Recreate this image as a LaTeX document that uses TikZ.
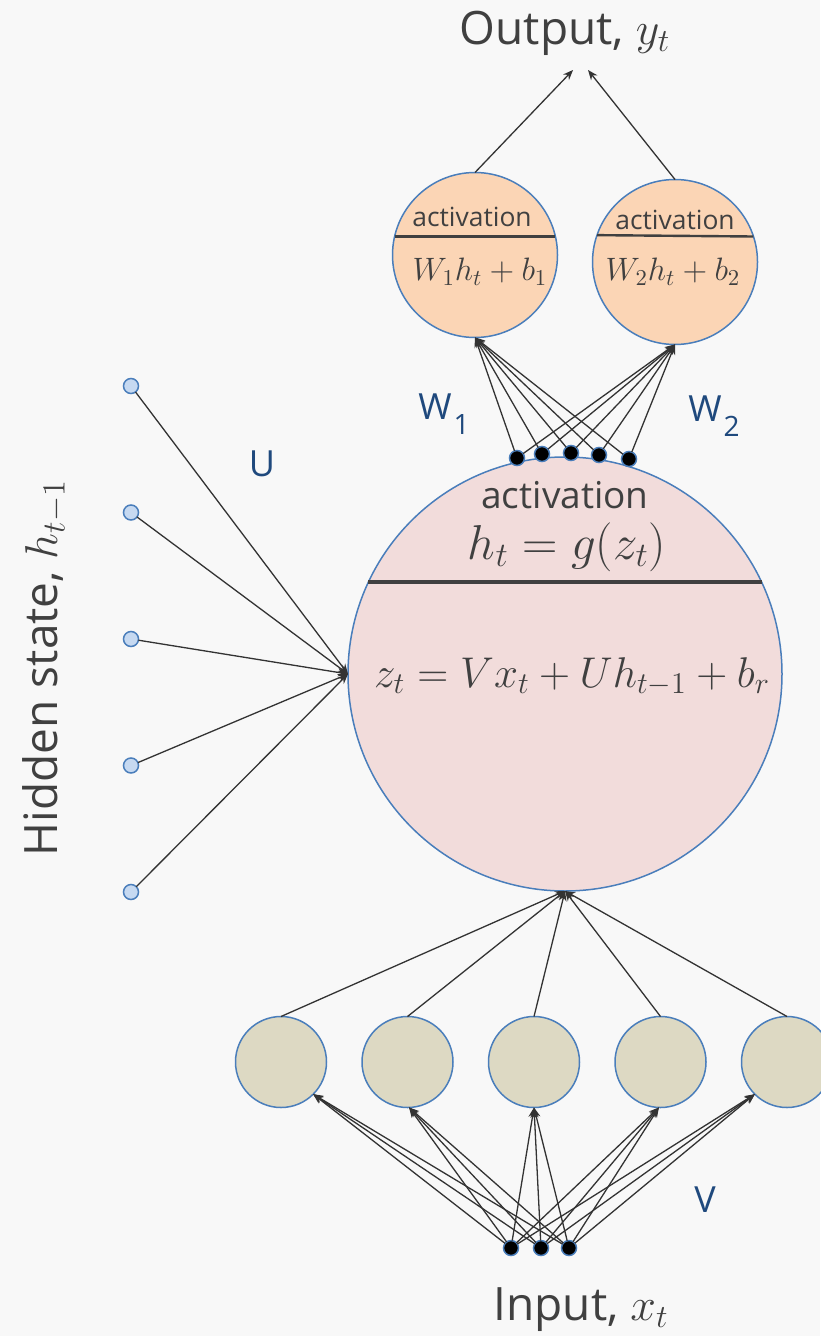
\RequirePackage{fix-cm}
\documentclass[tikz,border=0pt]{standalone}
\usepackage{amsmath}
\usepackage[no-math]{fontspec}
\setmainfont{Open Sans}
\usetikzlibrary{arrows.meta}
\definecolor{rnnpaper}{HTML}{F8F8F8}
\definecolor{rnnink}{HTML}{404040}
\definecolor{rnnwire}{HTML}{333333}
\definecolor{rnnedge}{HTML}{4A7EBB}
\definecolor{rnnlabel}{HTML}{1F497D}
\definecolor{rnnpink}{HTML}{F2DCDB}
\definecolor{rnnpeach}{HTML}{FBD5B5}
\definecolor{rnnbeige}{HTML}{DDD9C3}
\definecolor{rnnsky}{HTML}{C6D9F1}

\begin{document}
\begin{tikzpicture}[
  x=0.5pt,
  y=-0.5pt,
  every node/.style={text=rnnink},
  unit/.style={circle, draw=rnnedge, line width=0.75pt, inner sep=0pt, outer sep=0pt},
  cell/.style={unit, fill=rnnpink, minimum size=217pt},
  head/.style={unit, fill=rnnpeach, minimum size=82.5pt},
  feat/.style={unit, fill=rnnbeige, minimum size=45.5pt},
  prev/.style={unit, fill=rnnsky, minimum size=7.5pt},
  port/.style={unit, fill=black, minimum size=7.5pt},
  wire/.style={rnnwire, line width=0.65pt, -{Stealth[length=5pt, width=4pt]}},
  divider/.style={rnnink, line width=2pt},
  thindiv/.style={rnnink, line width=1.2pt},
  title/.style={font=\fontsize{23}{27}\selectfont},
  weight/.style={text=rnnlabel, font=\fontsize{18}{20}\selectfont},
  eqbig/.style={font=\fontsize{21.5}{26}\selectfont},
  eqsmall/.style={font=\fontsize{16.2}{19}\selectfont}
]

  \useasboundingbox (0,0) rectangle (820,1336);
  \fill[rnnpaper] (0,0) rectangle (820,1336);

  %% ---- nodes -----------------------------------------------------------
  \node[cell] (cell) at (565,674) {};
  \node[head] (o1) at (475,255) {};
  \node[head] (o2) at (675,262) {};

  \foreach \i in {1,...,5}
    \node[feat] (f\i) at ({281+126.5*(\i-1)},1062) {};
  \foreach \i in {1,...,5}
    \node[prev] (p\i) at (131,{386+126.5*(\i-1)}) {};

  \coordinate (yl) at (573,70);
  \coordinate (yr) at (588,70);

  %% ---- connectors ------------------------------------------------------
  \draw[wire] (o1.north) -- (yl);
  \draw[wire] (o2.north) -- (yr);

  \foreach \i in {1,...,5}
    \draw[wire] (p\i) -- (cell.west);
  \foreach \i in {1,...,5}
    \draw[wire] (f\i.north) -- (cell.south);

  \foreach \i/\x/\y in {1/517/458, 2/542/454, 3/571/453, 4/599/455, 5/629/459}
    \node[port] (a\i) at (\x,\y) {};
  \foreach \i in {1,...,5} {
    \draw[wire] (a\i) -- (o1.south);
    \draw[wire] (a\i) -- (o2.south);
  }

  \foreach \j/\x in {1/511, 2/541, 3/569}
    \node[port] (x\j) at (\x,1248) {};
  \foreach \j in {1,2,3}
    \foreach \i/\a in {1/-45, 2/-88, 3/-90, 4/-92, 5/-135}
      \draw[wire] (x\j) -- (f\i.\a);

  %% ---- dividers --------------------------------------------------------
  \draw[divider] (cell.155) -- (cell.25);
  \draw[thindiv] (o1.167) -- (o1.13);
  \draw[thindiv] (o2.161.5) -- (o2.18.5);

  %% ---- texts -----------------------------------------------------------
  \node[font=\fontsize{18.5}{22}\selectfont] (cellact) at (565,495) {activation};
  \node[font=\fontsize{24.5}{30}\selectfont] (celleqh) at (567,547) {$h_t = g(z_t)$};
  \node[eqbig] (celleqz) at (572,677) {$z_t = Vx_t + Uh_{t-1} + b_r$};

  \node[font=\fontsize{13.2}{16}\selectfont] (o1act) at (472,217) {activation};
  \node[font=\fontsize{13.2}{16}\selectfont] (o2act) at (675,220) {activation};
  \node[eqsmall] (o1eq) at (480,272) {$W_1h_t + b_1$};
  \node[eqsmall] (o2eq) at (673,272) {$W_2h_t + b_2$};

  \node[title] (outtxt) at (565,33) {Output, $y_t$};
  \node[title] (intxt) at (581,1310) {Input, $x_t$};
  \node[title, rotate=90] (hidtxt) at (45,668) {Hidden state, $h_{t-1}$};

  \node[weight] (ulab) at (262,464) {U};
  \node[weight] (vlab) at (705,1200) {V};
  \node[weight, anchor=base west, inner sep=0pt] (w1lab) at (418,420)
    {W\hspace{1pt}\raisebox{-7.5pt}{\fontsize{14}{14}\selectfont 1}};
  \node[weight, anchor=base west, inner sep=0pt] (w2lab) at (688,422)
    {W\hspace{1pt}\raisebox{-7.5pt}{\fontsize{14}{14}\selectfont 2}};

\end{tikzpicture}
\end{document}
